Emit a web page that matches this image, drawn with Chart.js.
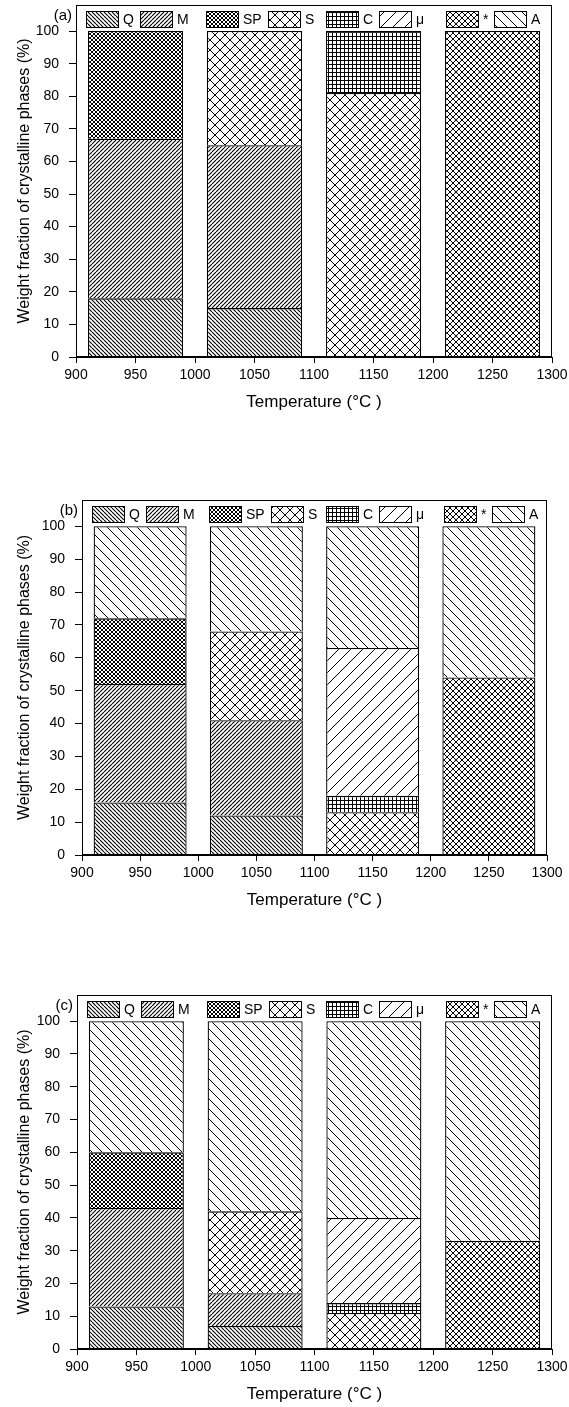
<!DOCTYPE html>
<html>
<head>
<meta charset="utf-8">
<script src="https://cdn.jsdelivr.net/npm/chart.js@4.4.1/dist/chart.umd.min.js"></script>
<style>
  html, body { margin: 0; padding: 0; background: #fff; }
  body { width: 569px; height: 1407px; position: relative; overflow: hidden; }
  .panel { position: absolute; left: 0; width: 569px; }
</style>
</head>
<body>
<div class="panel" style="top:0;height:440px"><canvas id="chartA"></canvas></div>
<div class="panel" style="top:460px;height:460px"><canvas id="chartB"></canvas></div>
<div class="panel" style="top:950px;height:457px"><canvas id="chartC"></canvas></div>
<script>
// temperatures (°C) of the four bars
var temps = [950, 1050, 1150, 1250];
var phaseNames = ['Q', 'M', 'SP', 'S', 'C', 'μ', '*', 'A'];
var xTicks = [900, 1300, 50];   // min, max, step
var yTicks = [0, 100, 10];

// panel (a) weight fractions, one array per phase
var Q_a    = [18, 15, null, null];
var M_a    = [49, 50, null, null];
var SP_a   = [33, null, null, null];
var S_a    = [null, 35, 81, null];
var C_a    = [null, null, 19, null];
var mu_a   = [null, null, null, null];
var star_a = [null, null, null, 100];
var A_a    = [null, null, null, null];

// panel (b)
var Q_b    = [16, 12, null, null];
var M_b    = [36, 29, null, null];
var SP_b   = [20, null, null, null];
var S_b    = [null, 27, 13, null];
var C_b    = [null, null, 5, null];
var mu_b   = [null, null, 45, null];
var star_b = [null, null, null, 54];
var A_b    = [28, 32, 37, 46];

// panel (c)
var Q_c    = [13, 7, null, null];
var M_c    = [30, 10, null, null];
var SP_c   = [17, null, null, null];
var S_c    = [null, 25, 11, null];
var C_c    = [null, null, 3, null];
var mu_c   = [null, null, 26, null];
var star_c = [null, null, null, 33];
var A_c    = [40, 58, 60, 67];

var FONT = '"Liberation Sans", Arial, Helvetica, sans-serif';

// hatch tiles, black lines on white
function hatch(n, kinds, lw) {
    var c = document.createElement('canvas');
    c.width = n; c.height = n;
    var g = c.getContext('2d');
    g.fillStyle = '#fff';
    g.fillRect(0, 0, n, n);
    g.strokeStyle = '#000';
    g.lineWidth = lw || 1;
    g.beginPath();
    kinds.forEach(function (k) {
        for (var s = -1; s <= 1; s++) {
            if (k == 'back') { g.moveTo(s * n, 0); g.lineTo(s * n + n, n); }
            if (k == 'fwd') { g.moveTo(s * n, n); g.lineTo(s * n + n, 0); }
        }
        if (k == 'h') { g.moveTo(0, 0.5); g.lineTo(n, 0.5); }
        if (k == 'v') { g.moveTo(0.5, 0); g.lineTo(0.5, n); }
    });
    g.stroke();
    return g.createPattern(c, 'repeat');
}

var patterns = [
    hatch(4, ['back'], 1.1),       // Q
    hatch(4, ['fwd'], 1.1),        // M
    hatch(4, ['back', 'fwd']),     // SP
    hatch(10, ['back', 'fwd']),    // S
    hatch(4, ['h', 'v']),          // C
    hatch(12, ['fwd']),            // mu
    hatch(6, ['back', 'fwd']),     // *
    hatch(10, ['back'])            // A
];

var framePlugin = {
    id: 'frame',
    afterDraw: function (chart) {
        var a = chart.chartArea, ctx = chart.ctx;
        ctx.save();
        ctx.strokeStyle = '#000';
        ctx.lineWidth = 1;
        ctx.strokeRect(Math.round(a.left) + 0.5, Math.round(a.top) + 0.5,
            Math.round(a.right - a.left) - 1, Math.round(a.bottom - a.top) - 1);
        ctx.restore();
    }
};

var legendPlugin = {
    id: 'insideLegend',
    afterDraw: function (chart) {
        var a = chart.chartArea, ctx = chart.ctx;
        var boxW = 32, boxH = 16, top = Math.round(a.top) + 6;
        ctx.save();
        ctx.font = '14px ' + FONT;
        ctx.textBaseline = 'middle';
        for (var g = 0; g < 4; g++) {
            var x = Math.round(a.left + 10 + g * 0.252 * (a.right - a.left));
            for (var k = 0; k < 2; k++) {
                var i = g * 2 + k;
                ctx.fillStyle = patterns[i];
                ctx.fillRect(x, top, boxW, boxH);
                ctx.strokeStyle = '#000';
                ctx.lineWidth = 1;
                ctx.strokeRect(x + 0.5, top + 0.5, boxW, boxH);
                ctx.fillStyle = '#000';
                ctx.fillText(phaseNames[i], x + boxW + 5, top + boxH / 2 + 1);
                x = Math.round(x + boxW + 5 + ctx.measureText(phaseNames[i]).width + 6);
            }
        }
        ctx.restore();
    }
};

var panelLabel = {
    id: 'panelLabel',
    afterDraw: function (chart) {
        var a = chart.chartArea, ctx = chart.ctx;
        ctx.save();
        ctx.font = '15px ' + FONT;
        ctx.fillStyle = '#000';
        ctx.textAlign = 'right';
        ctx.textBaseline = 'middle';
        ctx.fillText(chart.options.panelText, a.left - 4, a.top + 11);
        ctx.restore();
    }
};

function makeChart(id, text, values, pad, yWidth) {
    var datasets = phaseNames.map(function (name, i) {
        var pts = [];
        temps.forEach(function (t, j) {
            if (values[i][j] !== null) pts.push({ x: t, y: values[i][j] });
        });
        return {
            label: name,
            data: pts,
            backgroundColor: patterns[i],
            borderColor: '#000',
            borderWidth: 1.3,
            borderSkipped: 'start',
            barPercentage: 1,
            // ruler min is one tick step (50), bars are 80 wide
            categoryPercentage: 1.6
        };
    });

    return new Chart(document.getElementById(id), {
        type: 'bar',
        data: { datasets: datasets },
        plugins: [framePlugin, legendPlugin, panelLabel],
        options: {
            panelText: text,
            responsive: true,
            maintainAspectRatio: false,
            animation: false,
            layout: { padding: pad },
            plugins: { legend: { display: false }, tooltip: { enabled: false } },
            scales: {
                x: {
                    type: 'linear',
                    stacked: true,
                    offset: false,
                    min: xTicks[0], max: xTicks[1],
                    ticks: {
                        stepSize: xTicks[2], color: '#000', font: { family: FONT, size: 14 }, padding: 4, maxRotation: 0,
                        callback: function (v) { return String(v); }
                    },
                    grid: { drawOnChartArea: false, drawTicks: true, tickLength: 6, color: '#000', offset: false },
                    border: { color: '#000', width: 1 },
                    title: { display: true, text: 'Temperature (°C )', color: '#000', font: { family: FONT, size: 17 }, padding: 0 },
                    afterFit: function (s) { s.height = 56; s.paddingLeft = 0; s.paddingRight = 0; }
                },
                y: {
                    stacked: true,
                    min: 0, max: 108,
                    ticks: { stepSize: yTicks[2], color: '#000', font: { family: FONT, size: 14 }, padding: 10 },
                    afterBuildTicks: function (s) {
                        s.ticks = s.ticks.filter(function (t) { return t.value <= yTicks[1]; });
                    },
                    grid: { drawOnChartArea: false, drawTicks: true, tickLength: 7, color: '#000' },
                    border: { color: '#000', width: 1 },
                    title: { display: true, text: 'Weight fraction of crystalline phases (%)', color: '#000', font: { family: FONT, size: 16 }, padding: { top: 15, bottom: 0 } },
                    afterFit: function (s) { s.width = yWidth; s.paddingTop = 0; s.paddingBottom = 0; }
                }
            }
        }
    });
}

makeChart('chartA', '(a)', [Q_a, M_a, SP_a, S_a, C_a, mu_a, star_a, A_a],
    { top: 5, bottom: 27, left: 0, right: 17 }, 76);
makeChart('chartB', '(b)', [Q_b, M_b, SP_b, S_b, C_b, mu_b, star_b, A_b],
    { top: 40, bottom: 9, left: 0, right: 22 }, 82);
makeChart('chartC', '(c)', [Q_c, M_c, SP_c, S_c, C_c, mu_c, star_c, A_c],
    { top: 45, bottom: 2, left: 0, right: 17 }, 77);
</script>
</body>
</html>
